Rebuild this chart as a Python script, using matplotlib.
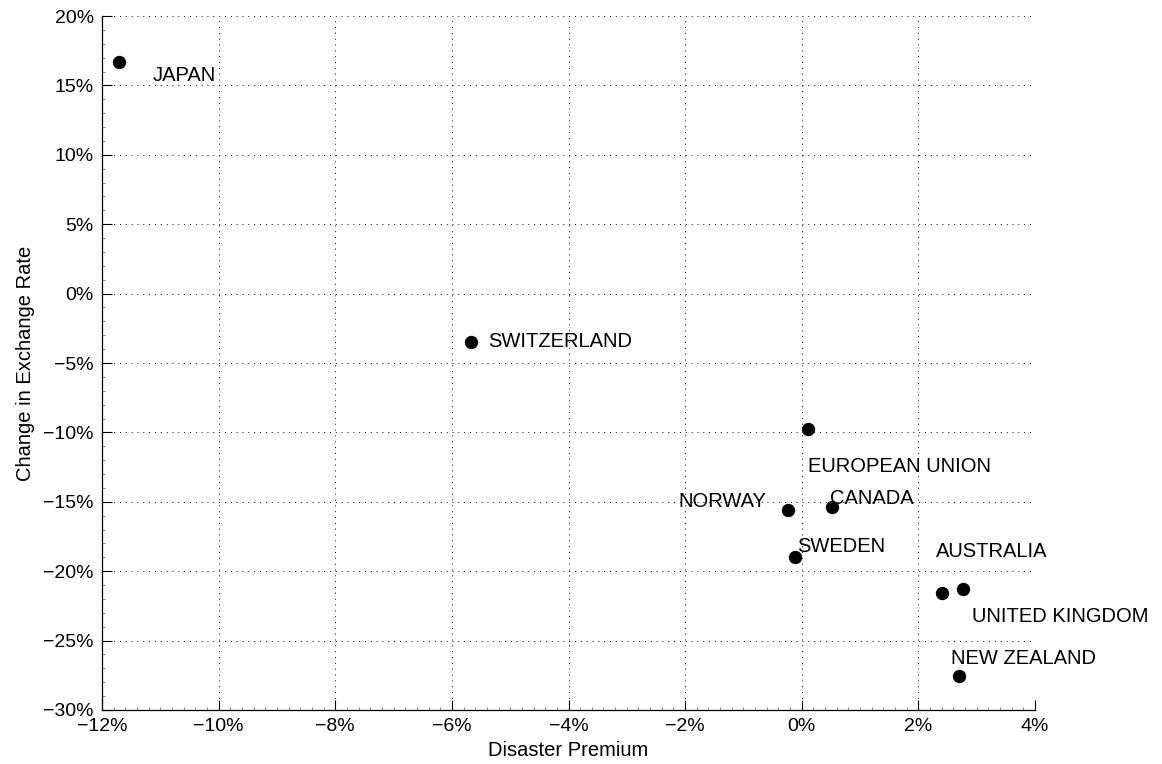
import matplotlib
matplotlib.use("Agg")
import matplotlib.pyplot as plt
from matplotlib.ticker import MultipleLocator, FuncFormatter

# Data (percent)
countries = ["JAPAN", "SWITZERLAND", "EUROPEAN UNION", "NORWAY", "CANADA",
             "SWEDEN", "AUSTRALIA", "UNITED KINGDOM", "NEW ZEALAND"]
disaster_premium = [-11.71, -5.67, 0.10, -0.24, 0.52, -0.11, 2.41, 2.77, 2.70]
fx_change = [16.69, -3.49, -9.73, -15.59, -15.40, -19.00, -21.55, -21.26, -27.55]

# label placement (offset points from the marker, horizontal alignment)
label_style = {
    "JAPAN": ((24.5, -13.7), "left"),
    "SWITZERLAND": ((12.2, -3.6), "left"),
    "EUROPEAN UNION": ((0.0, -31.0), "left"),
    "NORWAY": ((-15.8, 2.2), "right"),
    "CANADA": ((-1.4, 2.2), "left"),
    "SWEDEN": ((1.4, 3.6), "left"),
    "AUSTRALIA": ((-4.3, 25.9), "left"),
    "UNITED KINGDOM": ((6.5, -23.8), "left"),
    "NEW ZEALAND": ((-5.8, 8.6), "left"),
}

plt.rcParams['font.family'] = ['Liberation Sans', 'DejaVu Sans']

fig = plt.figure(figsize=(11.62, 7.64), dpi=100)
ax = fig.add_axes([0.0878, 0.0707, 0.8029, 0.9083])

ax.plot(disaster_premium, fx_change, 'o', color='black', markersize=8.6,
        linestyle='none', zorder=3)

for name, x, y in zip(countries, disaster_premium, fx_change):
    off, ha = label_style[name]
    ax.annotate(name, (x, y), xytext=off, textcoords='offset points',
                ha=ha, va='baseline', fontsize=14.5, color='black')

ax.set_xlim(-12, 4)
ax.set_ylim(-30, 20)
ax.xaxis.set_major_locator(MultipleLocator(2))
ax.yaxis.set_major_locator(MultipleLocator(5))
ax.xaxis.set_minor_locator(MultipleLocator(0.2))
ax.yaxis.set_minor_locator(MultipleLocator(1))

def pct(v, pos):
    v = int(round(v))
    return ("\u2212%d%%" % (-v)) if v < 0 else "%d%%" % v

ax.xaxis.set_major_formatter(FuncFormatter(pct))
ax.yaxis.set_major_formatter(FuncFormatter(pct))

ax.tick_params(which='major', direction='in', length=7.2, width=0.8,
               labelsize=14, pad=6, top=False, right=False)
ax.tick_params(which='minor', direction='in', length=2.2, width=0.5,
               color='#555555', top=False, right=False)

ax.spines['top'].set_visible(False)
ax.spines['right'].set_visible(False)
ax.spines['left'].set_linewidth(0.9)
ax.spines['bottom'].set_linewidth(0.9)

ax.grid(True, which='major', linestyle=(0, (1, 5)), color='black',
        linewidth=0.7)
ax.set_axisbelow(True)

ax.set_xlabel("Disaster Premium", fontsize=14.5, labelpad=4)
ax.set_ylabel("Change in Exchange Rate", fontsize=14.5, labelpad=6)

fig.savefig("out.png", dpi=100)
